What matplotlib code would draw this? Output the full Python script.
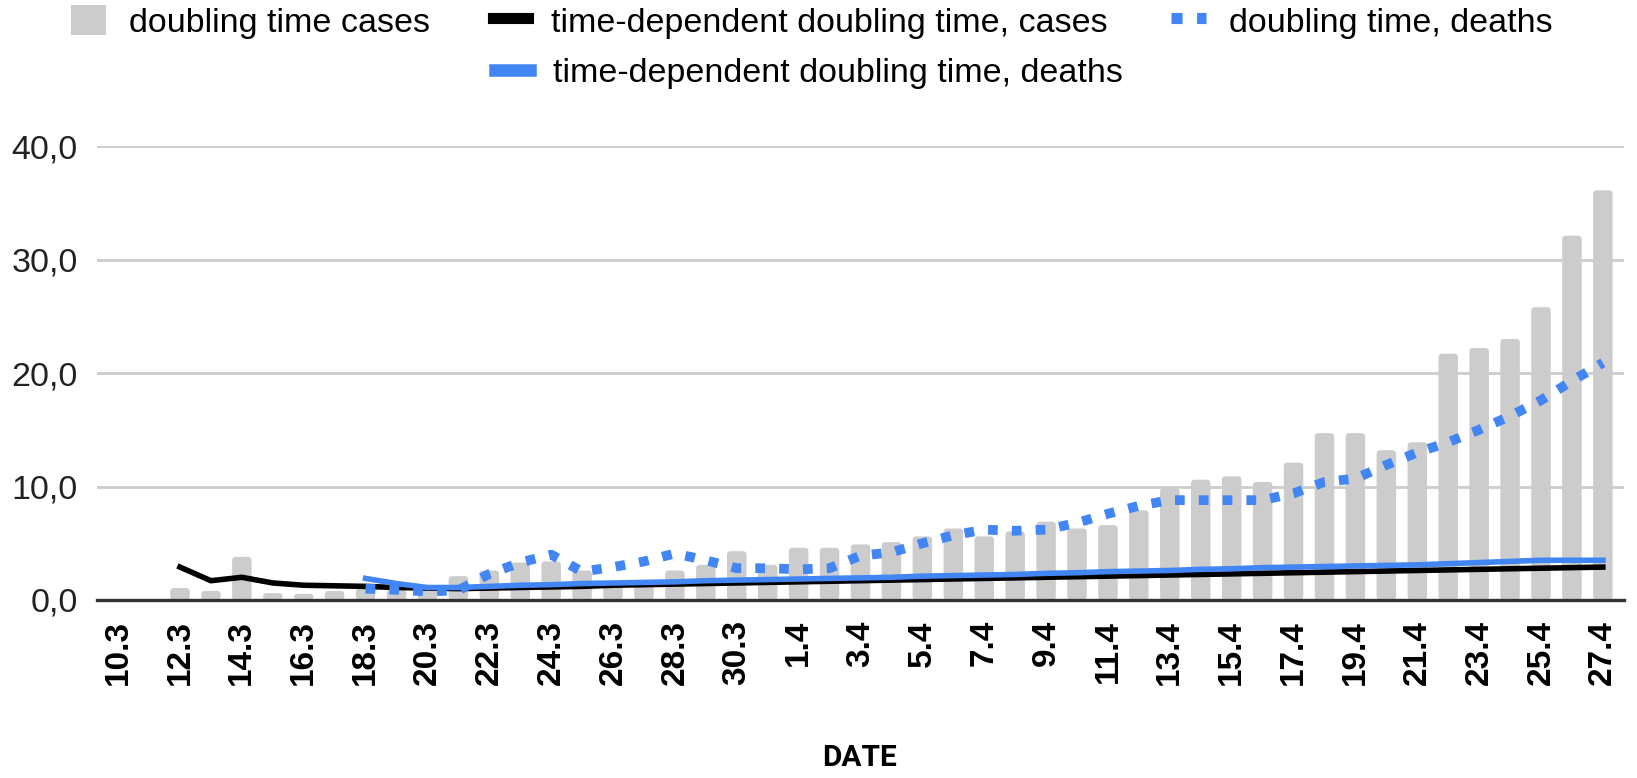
import numpy as np
import matplotlib
matplotlib.use("Agg")
import matplotlib.pyplot as plt
from matplotlib.lines import Line2D
from matplotlib.patches import Patch, FancyBboxPatch
from matplotlib.ticker import FuncFormatter

nan = np.nan

# dates 10.3 .. 27.4
dates = [f"{d}.3" for d in range(10, 32)] + [f"{d}.4" for d in range(1, 28)]

doubling_cases = [nan, nan, 1.05, 0.8, 3.8, 0.6, 0.55, 0.8, 1.0, 0.9,
                  0.9, 2.1, 2.6, 3.3, 3.4, 2.6, 1.6, 1.5, 2.6, 3.1,
                  4.3, 3.1, 4.6, 4.6, 4.9, 5.1, 5.6, 6.3, 5.6, 6.05,
                  6.9, 6.3, 6.6, 7.9, 9.85, 10.6, 10.9, 10.4, 12.1, 14.7,
                  14.7, 13.2, 13.9, 21.7, 22.2, 23.0, 25.8, 32.1, 36.1]

td_cases = [nan, nan, 2.9, 1.7, 2.0, 1.5, 1.3, 1.25, 1.2, 1.1,
            1.05, 1.0, 1.05, 1.1, 1.15, 1.2, 1.3, 1.35, 1.4, 1.45,
            1.5, 1.55, 1.6, 1.65, 1.7, 1.75, 1.8, 1.85, 1.9, 1.95,
            2.0, 2.05, 2.1, 2.15, 2.2, 2.25, 2.3, 2.35, 2.4, 2.45,
            2.5, 2.55, 2.6, 2.65, 2.7, 2.75, 2.8, 2.85, 2.9]

doubling_deaths = [nan, nan, nan, nan, nan, nan, nan, nan, 1.0, 0.9,
                   0.75, 0.85, 2.3, 3.3, 4.0, 2.5, 2.9, 3.4, 4.1, 3.5,
                   2.8, 2.8, 2.7, 2.8, 3.9, 4.2, 5.0, 5.7, 6.2, 6.1,
                   6.2, 6.8, 7.6, 8.3, 8.8, 8.8, 8.8, 8.8, 9.4, 10.4,
                   10.7, 11.9, 13.0, 13.9, 15.0, 16.2, 17.6, 19.3, 20.9]

td_deaths = [nan, nan, nan, nan, nan, nan, nan, nan, 1.9, 1.45,
             1.1, 1.1, 1.2, 1.3, 1.35, 1.45, 1.5, 1.55, 1.6, 1.7,
             1.75, 1.8, 1.85, 1.9, 1.95, 2.0, 2.1, 2.15, 2.2, 2.25,
             2.35, 2.4, 2.5, 2.55, 2.6, 2.7, 2.75, 2.85, 2.9, 2.95,
             3.0, 3.05, 3.1, 3.2, 3.3, 3.4, 3.5, 3.5, 3.5]

plt.rcParams['font.family'] = ['Liberation Sans', 'DejaVu Sans']

gray = '#cccccc'
blue = '#4285f4'

fig = plt.figure(figsize=(16.37, 7.78), dpi=100)
ax = fig.add_axes([0.0593, 0.2288, 0.9327, 0.5835])
ax.set_xlim(-0.68, 48.68)
ax.set_ylim(0, 40)

x = np.arange(len(dates))
bars = ax.bar(x, np.nan_to_num(doubling_cases), width=0.63, color=gray, zorder=2)

# rounded bar tops: swap each rectangle for a rounded box
fig.canvas.draw()
bb = ax.get_window_extent()
aspect = (40 / bb.height) / (49.36 / bb.width)
for r in bars:
    h = r.get_height()
    if h <= 0:
        continue
    ax.add_patch(FancyBboxPatch((r.get_x(), 0), r.get_width(), h,
                                boxstyle="round,pad=0,rounding_size=0.12",
                                mutation_aspect=aspect, fc=gray, ec='none', zorder=2))
    r.set_visible(False)

ax.plot(x, td_cases, color='black', lw=4, zorder=3, solid_joinstyle='round')
ax.plot(x, doubling_deaths, color=blue, lw=7, linestyle=(0, (1, 1.45)),
        dash_capstyle='butt', zorder=4)
ax.plot(x, td_deaths, color=blue, lw=4, zorder=5, solid_joinstyle='round')

ax.set_yticks([0, 10, 20, 30, 40])
ax.yaxis.set_major_formatter(FuncFormatter(lambda v, p: f"{v:.1f}".replace('.', ',')))
for yv in [10, 20, 30, 40]:
    ax.axhline(yv, color=gray, lw=2.0, zorder=1)
ax.axhline(0, color='#333333', lw=2.4, zorder=6, clip_on=False)

ax.set_xticks(x[::2])
ax.set_xticklabels(dates[::2], rotation=90, fontsize=24, fontweight='bold')
ax.tick_params(axis='x', length=0, pad=14.5)
ax.tick_params(axis='y', length=0, pad=14, labelsize=24.5, labelcolor='#222222')
for s in ax.spines.values():
    s.set_visible(False)

fig.text(0.525, 0.026, 'DATE', ha='center', va='center', fontsize=21.5,
         fontweight='bold', family='Roboto')

h1 = [Patch(facecolor=gray, edgecolor='none'),
      Line2D([], [], color='black', lw=8),
      Line2D([], [], color=blue, lw=8, linestyle=(0, (1, 1.3)), dash_capstyle='butt')]
fig.legend(h1, ['doubling time cases', 'time-dependent doubling time, cases',
                'doubling time, deaths'],
           loc='center', bbox_to_anchor=(0.496, 0.972), ncol=3, frameon=False,
           fontsize=24.5, handlelength=1.03, handleheight=1.0, handletextpad=0.68,
           columnspacing=1.85, borderpad=0)
h2 = [Line2D([], [], color=blue, lw=9)]
fig.legend(h2, ['time-dependent doubling time, deaths'],
           loc='center', bbox_to_anchor=(0.494, 0.906), frameon=False,
           fontsize=24.5, handlelength=1.03, handletextpad=0.68, borderpad=0)

fig.savefig('out.png', dpi=100)
